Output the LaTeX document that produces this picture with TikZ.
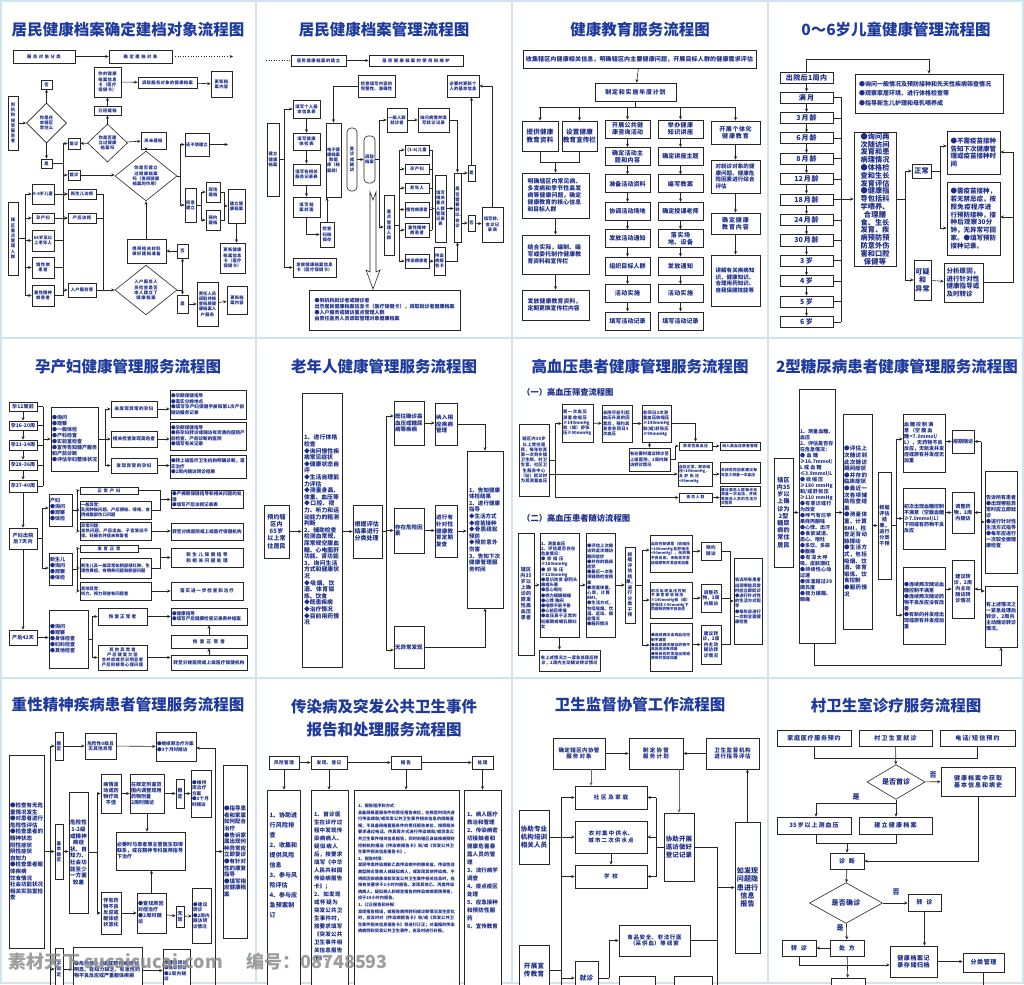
\documentclass[tikz,border=0pt]{standalone}
\usepackage{fontspec}
\setmainfont{Noto Sans CJK SC}
\XeTeXlinebreaklocale "zh"
\XeTeXlinebreakskip=0pt plus 1pt
\usetikzlibrary{arrows.meta,shapes.geometric}
\definecolor{tblue}{HTML}{1B2C8A}
\definecolor{ttlc}{HTML}{1E3A9C}
\definecolor{sepc}{HTML}{CFE4EE}
\newcommand\mybox[7][]{%
  \pgfmathsetmacro\bxw{#5-#3}\pgfmathsetmacro\bxh{#6-#4}%
  \pgfmathsetmacro\bxt{max(#5-#3-2,3)}%
  \node[bx,minimum width=\bxw pt,minimum height=\bxh pt,text width=\bxt pt,#1] (#2) at ({(#3+#5)/2},{(#4+#6)/2}) {#7};}
\newcommand\mydia[7][]{%
  \node[dia,minimum width=#5pt,minimum height=#6pt,#1] (#2) at (#3,#4) {#7};}
\tikzset{
  bx/.style={draw=black!85,line width=0.6pt,fill=white,font=\fontsize{4.3}{5.2}\selectfont\bfseries,text=tblue,align=center,inner sep=1pt},
  dia/.style={draw=black!85,line width=0.6pt,fill=white,diamond,font=\fontsize{4.3}{5.2}\selectfont\bfseries,text=tblue,align=center,inner sep=0pt,text width=22pt},
  ttl/.style={font=\fontsize{15.5}{17}\selectfont\bfseries,text=ttlc,inner sep=0pt},
  sub/.style={font=\fontsize{8.3}{9}\selectfont\bfseries,text=tblue,inner sep=0pt,anchor=west},
  lbl/.style={font=\fontsize{7}{8}\selectfont\bfseries,text=tblue,inner sep=0pt},
  ctext/.style={text=tblue,align=left,inner sep=0pt,anchor=north},
  wm/.style={font=\fontsize{18}{20}\selectfont\bfseries,text=black!45,opacity=0.85,inner sep=0pt,anchor=west},
  ar/.style={line width=0.6pt,draw=black!85,-{Stealth[length=3.5pt,width=3pt]}},
  ln/.style={line width=0.6pt,draw=black!85},
  s38/.style={font=\fontsize{3.8}{4.6}\selectfont\bfseries},
  s4/.style={font=\fontsize{4.3}{5.2}\selectfont\bfseries},
  s45/.style={font=\fontsize{4.6}{5.5}\selectfont\bfseries},
  s5/.style={font=\fontsize{5}{6}\selectfont\bfseries},
  s55/.style={font=\fontsize{5.5}{6.6}\selectfont\bfseries},
  s58/.style={font=\fontsize{5.8}{7}\selectfont\bfseries},
  s6/.style={font=\fontsize{6}{7.2}\selectfont\bfseries},
  s65/.style={font=\fontsize{6.5}{7.8}\selectfont\bfseries},
  s7/.style={font=\fontsize{7}{8.4}\selectfont\bfseries},
  lft/.style={align=left},
}
\begin{document}
\begin{tikzpicture}[x=1pt,y=-1pt]
\useasboundingbox (0,0) rectangle (1024,984);
\clip (0,0) rectangle (1024,984);
\fill[white] (0,0) rectangle (1024,984);
\draw[sepc,line width=1.2pt] (1,1) rectangle (1023,983);
\foreach \xx in {256,512,768} \draw[sepc,line width=1.2pt] (\xx,0) -- (\xx,984);
\foreach \yy in {338,678} \draw[sepc,line width=1.2pt] (0,\yy) -- (1024,\yy);

%================ Panel 1
\node[ttl] (t1) at (128,30) {居民健康档案确定建档对象流程图};
\mybox{a1}{13}{50}{75}{63}{服务对象分类}
\mybox{a2}{109}{50}{172}{63}{确定建档对象}
\coordinate (a2e) at (233,56.5);
\draw[ar] (a1) -- (a2);
\draw[ar,dotted] (a2) -- (a2e);
\mybox{a3}{94}{67}{121}{97}{你的健康档案信息卡（医疗保健卡）}
\mybox{a4}{138}{77}{197}{88}{调取服务对象的健康档案}
\mybox{a5}{211}{71}{232}{97}{更新档案内容}
\mybox{a6}{94}{106}{121}{115}{已经建档}
\mydia[text width=20pt]{d1}{107.5}{143}{40}{38}{你是否建立过健康档案吗}
\mybox{a7}{68}{138}{80}{149}{复诊}
\mybox{a8}{141}{132}{166}{149}{尚未建档}
\mybox{a9}{41}{80}{52}{89}{否}
\mydia[text width=18pt]{d0}{46.5}{123}{40}{40}{你是在本辖区常住么}
\mybox{a10}{8}{96}{18}{150}{到机构接受服务者}
\mybox{a11}{41}{159}{52}{168}{是}
\draw[ar] (a10) -- (d0);
\draw[ar] (d0) -- (a9);
\draw[ar] (d0) -- (a11);
\draw[ar] (d1) -- (a6);
\draw[ar] (a6) -- (a3);
\draw[ar] (a3) -- (a4);
\draw[ar] (a4) -- (a5);
\draw[ar] (d1) -- (a7);
\draw[ar] (d1) -- (a8);
\coordinate (tr1) at (63,143.5);
\coordinate (tr1b) at (63,295.5);
\draw[ln] (tr1) -- (tr1b);
\draw[ln] (a11.east) -- (a11.east -| tr1);
\mybox{a12}{68}{170}{80}{180}{首诊}
\mybox{a13}{68}{189}{96}{199}{新生儿访视}
\mybox{a14}{68}{213}{96}{223}{产后访视}
\mybox{a15}{68}{283}{96}{297}{入户服务等}
\foreach \n in {a7,a12,a13,a14,a15} \draw[ar] (\n.west -| tr1) -- (\n.west);
\mydia[text width=30pt]{d2}{146}{176}{62}{38}{你是否建立过健康档案吗（查阅健康档案的作用）}
\draw[ar] (a12.east) -- (a12.east -| d2.west);
\draw[ar] (a8.south -| d2.north) -- (d2.north);
\coordinate (tr2) at (180,144.5);
\coordinate (tr2b) at (180,205);
\draw[ln] (d2.east) -- (d2.east -| tr2);
\draw[ln] (tr2) -- (tr2b);
\mybox{a16}{185}{133}{209}{156}{还不想建立}
\mybox{a17}{185}{188}{196}{222}{同意建立}
\draw[ar] (tr2) -- (a16.west |- tr2);
\draw[ar] (tr2b) -- (a17.west |- tr2b);
\coordinate (a16e) at (228,144.5);
\draw[ar] (a16) -- (a16e);
\mybox{a18}{206}{182}{220}{202}{现场建档}
\mybox{a19}{206}{210}{220}{230}{预约建档}
\coordinate (tr3) at (201,192);
\coordinate (tr3b) at (201,220);
\draw[ln] (a17.east) -- (a17.east -| tr3);
\draw[ln] (tr3) -- (tr3b);
\draw[ar] (tr3) -- (a18.west |- tr3);
\draw[ar] (tr3b) -- (a19.west |- tr3b);
\mybox{a20}{228}{189}{245}{223}{建立健康档案}
\coordinate (tr4) at (224,192);
\coordinate (tr4b) at (224,220);
\draw[ln] (a18.east |- tr4) -- (tr4) -- (tr4b) -- (a19.east |- tr4b);
\draw[ar] (tr4 |- a20) -- (a20.west);
\mybox{a21}{220}{243}{245}{273}{更新健康档案信息卡（医疗保健卡）}
\draw[ar] (a20) -- (a20 |- a21.north);
\mybox{a22}{8}{202}{18}{275}{辖区重点管理人群}
\coordinate (tr5) at (25,194);
\coordinate (tr5b) at (25,295.5);
\draw[ln] (tr5) -- (tr5b);
\draw[ln] (a22) -- (a22 -| tr5);
\mybox{a23}{32}{184}{54}{204}{0-6岁儿童}
\mybox{a24}{32}{213}{54}{223}{孕产妇}
\mybox{a25}{32}{230}{54}{251}{65岁及以上老年人}
\mybox{a26}{32}{257}{54}{278}{慢性病患者}
\mybox{a27}{32}{285}{54}{306}{重性精神病患者}
\foreach \n in {a23,a24,a25,a26,a27} \draw[ar] (\n.west -| tr5) -- (\n.west);
\draw[ar] (a23) -- (a13);
\draw[ar] (a24) -- (a14);
\foreach \n in {a25,a26,a27} \draw[ln] (\n.east) -- (\n.east -| tr1);
\mydia[text width=30pt]{d3}{146}{290}{62}{35}{入户服务人员检查是否本人建立了健康档案}
\draw[ar] (a15) -- (d3);
\coordinate (tr6) at (103,290);
\draw[ln] (a13.east) -| (tr6);
\draw[ln] (a14.east) -| (tr6);
\coordinate (tr7) at (182.5,290);
\draw[ln] (d3.east) -- (tr7);
\mybox{a28}{177}{244}{188}{258}{否}
\mybox{a29}{177}{295}{188}{313}{是}
\draw[ar] (tr7) -- (a28.south);
\draw[ar] (tr7) -- (a29.north);
\mybox{a30}{127}{239}{166}{263}{携带相关材料做好建档准备}
\draw[ar] (a28) -- (a30);
\draw[ar] (a30.north -| d2.south) -- (d2.south);
\mybox{a31}{197}{282}{218}{326}{责任人员调取并核查纸质健康档案入户服务}
\mybox{a32}{227}{286}{247}{314}{更新档案内容}
\draw[ar] (a29) -- (a31.west |- a29);
\draw[ar] (a31) -- (a32);

%================ Panel 2
\node[ttl] (t2) at (384,30) {居民健康档案管理流程图};
\mybox{b1}{291}{55}{346}{66}{居民健康档案的建立}
\mybox{b2}{369}{55}{463}{66}{居民健康档案的使用和维护}
\coordinate (b0) at (266,60.5);
\draw[ln,dotted] (b0) -- (b1);
\draw[ar] (b1) -- (b2);
\mybox{b3}{267}{123}{279}{196}{建立健康档案}
\coordinate (tb1) at (284,109);
\coordinate (tb1b) at (284,267.5);
\draw[ln] (tb1) -- (tb1b);
\draw[ln] (b3) -- (b3 -| tb1);
\mybox{b4}{293}{100}{320}{118}{填写个人基本信息表}
\mybox{b5}{293}{133}{320}{150}{填写健康体检表}
\mybox{b6}{293}{164}{320}{185}{填写各相关服务记录表}
\mybox{b7}{293}{197}{320}{217}{填写档案封面}
\mybox{b10}{293}{258}{336}{277}{发放健康档案信息卡（医疗保健卡）}
\draw[ar] (tb1) -- (b4.west |- tb1);
\draw[ar] (tb1b) -- (b10.west |- tb1b);
\draw[ar] (b4) -- (b5);
\draw[ar] (b5) -- (b6);
\draw[ar] (b6) -- (b7);
\mybox{b8}{320}{222}{334}{247}{检查归档保存}
\mybox{b9}{326}{123}{341}{197}{电子健康档案数据库（档案袋）}
\draw[ar] (b7.south) |- (b8.west);
\draw[ar] (b8.north) -- (b8.north |- b9.south);
\mybox{b11}{358}{75}{395}{97}{检查填写内容的完整性、准确性}
\draw[ar] (b11.west) -| (b9.north);
\mybox[rounded corners=4pt]{b12}{347}{128}{357}{191}{复诊或随访}
\mybox[rounded corners=4pt]{b13}{364}{136}{375}{183}{调取档案}
\draw[ar] (b12) -- (b13);
\draw[ln,fill=white] (370,192) -- (373,200) -- (376,192) -- (376,272) -- (380,270) -- (373,289) -- (366,270) -- (370,272) -- cycle;
\coordinate (tb2) at (379,120);
\coordinate (tb2b) at (379,227);
\draw[ln] (tb2) -- (tb2b);
\draw[ln] (b13) -- (b13 -| tb2);
\mybox{b14}{387}{108}{407}{132}{一般人群就诊者}
\mybox{b15}{418}{108}{449}{132}{询问病情并填写就诊记录}
\mybox{b16}{384}{195}{394}{255}{重点管理人群}
\draw[ar] (tb2) -- (b14.west |- tb2);
\draw[ar] (tb2b) -- (b16.west |- tb2b);
\draw[ar] (b14) -- (b15);
\mybox{b17}{454}{173}{461}{242}{是否需要转诊、会诊}
\draw[ar] (b15.east) -| (b17.north);
\coordinate (tb3) at (399,150);
\coordinate (tb3b) at (399,261);
\draw[ln] (tb3) -- (tb3b);
\draw[ln] (b16) -- (b16 -| tb3);
\mybox{b18}{405}{145}{429}{155}{(1-6)儿童}
\mybox{b19}{405}{164}{429}{174}{孕产妇}
\mybox{b20}{405}{183}{429}{193}{老年人}
\mybox{b21}{405}{202}{429}{217}{慢性病患者}
\mybox{b22}{405}{223}{429}{237}{重性精神病患者}
\mybox{b23}{405}{254}{429}{268}{传染病患者}
\foreach \n in {b18,b19,b20,b21,b22,b23} \draw[ar] (\n.west -| tb3) -- (\n.west);
\coordinate (tb4) at (432,150);
\coordinate (tb4b) at (432,230);
\draw[ln] (tb4) -- (tb4b);
\foreach \n in {b18,b19,b20,b21,b22} \draw[ln] (\n.east) -- (\n.east -| tb4);
\mybox{b24}{435}{175}{446}{242}{填写相关重点人群管理记录表}
\draw[ar] (tb4 |- b24) -- (b24.west);
\mybox{b25}{434}{247}{445}{275}{传染病报告卡}
\draw[ar] (b23) -- (b25);
\draw[ar] (b24) -- (b24 -| b17.west);
\draw[ar] (b25.east) -| (b17.south);
\mybox{b26}{468}{165}{475}{181}{是}
\mybox{b27}{468}{215}{475}{231}{否}
\draw[ar] (b17.east |- b26) -- (b26);
\draw[ar] (b17.east |- b27) -- (b27);
\mybox{b28}{447}{75}{479}{97}{必要时更新个人的基本信息}
\draw[ar] (b26) -- (b26 |- b28.south);
\mybox{b29}{482}{207}{503}{242}{填写转、会诊记录表}
\draw[ar] (b27) -- (b29);
\coordinate (tb5) at (492.5,86);
\draw[ln] (b29.north) -- (b29.north |- tb5);
\draw[ar] (b29.north |- tb5) -- (b28.east |- tb5);
\mybox[s5,lft,text width=140pt]{b30}{309}{290}{460}{330}{●到机构就诊者或随诊者\\出示居民健康档案信息卡（医疗保健卡），调取就诊者健康档案\\●入户服务或随访重点管理人群\\由责任医务人员调取管理对象健康档案}

%================ Panel 3
\node[ttl] (t3) at (640,30) {健康教育服务流程图};
\mybox[s6]{c1}{523}{50}{756}{68}{收集辖区内健康相关信息，明确辖区内主要健康问题，开展目标人群的健康需求评估}
\mybox[s6]{c2}{595}{83}{676}{101}{制定和实施年度计划}
\draw[ar] (c1) -- (c2);
\coordinate (tc1) at (539,107);
\coordinate (tc1b) at (735.5,107);
\draw[ln] (tc1) -- (tc1b);
\draw[ln] (c2) -- (c2 |- tc1);
\mybox[s65]{c3}{522}{121}{558}{151}{提供健康\\教育资料}
\mybox[s65]{c4}{562}{121}{597}{151}{设置健康\\教育宣传栏}
\foreach \n in {c3,c4} \draw[ar] (\n.north |- tc1) -- (\n.north);
\coordinate (tc2) at (540,162);
\draw[ln] (c3.south) -- (c3.south |- tc2) -- (c4.south |- tc2) -- (c4.south);
\mybox[s58,lft,text width=56pt]{c5}{522}{173}{589}{218}{明确辖区内常见病、多发病和季节性高发病等健康问题，确定健康教育的核心信息和目标人群}
\draw[ar] (c5.north |- tc2) -- (c5.north);
\mybox[s58,lft,text width=56pt]{c6}{522}{235}{589}{274}{结合实际，编制、编写或委托制作健康教育资料和宣传栏}
\mybox[s58,lft,text width=56pt]{c7}{522}{290}{589}{320}{发放健康教育资料，定期更换宣传栏内容}
\draw[ar] (c5) -- (c6);
\draw[ar] (c6) -- (c7);
\foreach \t [count=\i] in {开展公共健康咨询活动,确定活动主题和内容,准备活动资料,协调活动场地,发放活动通知,组织目标人群,活动实施,填写活动记录}{
  \pgfmathsetmacro\yt{120+(\i-1)*27.4}
  \mybox[s6,text width=37pt]{p\i}{605}{\yt}{650}{\yt+18}{\t}}
\foreach \t [count=\i] in {举办健康知识讲座,确定讲座主题,编写教案,确定授课老师,落实场地、设备,发放通知,活动实施,填写活动记录}{
  \pgfmathsetmacro\yt{120+(\i-1)*27.4}
  \mybox[s6,text width=37pt]{q\i}{658}{\yt}{703}{\yt+18}{\t}}
\foreach \i [count=\j from 2] in {1,...,7} {\draw[ar] (p\i) -- (p\j); \draw[ar] (q\i) -- (q\j);}
\draw[ar] (p1.north |- tc1) -- (p1.north);
\draw[ar] (q1.north |- tc1) -- (q1.north);
\mybox[s6]{e1}{711}{121}{760}{144}{开展个体化\\健康教育}
\mybox[s55,lft,text width=40pt]{e2}{711}{160}{760}{193}{对就诊对象的健康问题、健康危险因素进行综合评估}
\mybox[s6]{e3}{711}{213}{760}{234}{确定健康\\教育内容}
\mybox[s55,lft,text width=40pt]{e4}{711}{255}{760}{306}{讲解有关疾病知识、健康知识、合理用药知识、自我保健技能等}
\draw[ar] (e1.north |- tc1) -- (e1.north);
\draw[ar] (e1) -- (e2);
\draw[ar] (e2) -- (e3);
\draw[ar] (e3) -- (e4);

%================ Panel 4
\node[ttl] (t4) at (896,30) {0～6岁儿童健康管理流程图};
\mybox[s7]{m0}{780}{72}{833}{83}{出院后1周内}
\foreach \t [count=\i] in {满月,3月龄,6月龄,8月龄,12月龄,18月龄,24月龄,30月龄,3岁,4岁,5岁,6岁}{
  \pgfmathsetmacro\yt{92+(\i-1)*20.4}
  \mybox[s7]{m\i}{780}{\yt}{833}{\yt+11}{\t}}
\draw[ar] (m0) -- (m1);
\foreach \i [count=\j from 2] in {1,...,11} \draw[ar] (m\i) -- (m\j);
\mybox[font=\fontsize{6}{9.5}\selectfont\bfseries,lft,text width=140pt]{f1}{855}{74}{1003}{113}{●询问一般情况及预防接种和先天性疾病筛查情况\\●观察家居环境、进行体格检查等\\●指导新生儿护理和母乳喂养成}
\draw[ar] (m0.north) -- ++(0,-12) -| (f1.north);
\coordinate (tf1) at (841,97.5);
\coordinate (tf1b) at (841,321.9);
\draw[ln] (tf1) -- (tf1b);
\foreach \i in {1,...,12} \draw[ln] (m\i.east) -- (m\i.east -| tf1);
\mybox[font=\fontsize{7.2}{7.8}\selectfont\bfseries,text width=30pt]{f2}{854}{132}{896}{266}{●询问两次随访间发育和患病理情况●体格检查和生长发育评估●健康指导包括科学喂养、合理膳食、生长发育、疾病预防预防意外伤害和口腔保健等}
\draw[ar] (f2.west -| tf1) -- (f2.west);
\coordinate (tf2) at (905,171);
\coordinate (tf2b) at (905,280);
\draw[ln] (f2.east) -- (f2.east -| tf2);
\draw[ln] (tf2) -- (tf2b);
\mybox[s7]{f3}{912}{164}{931}{178}{正常}
\mybox[s7]{f4}{914}{260}{931}{300}{可疑\\和\\异常}
\draw[ar] (tf2) -- (f3.west |- tf2);
\draw[ar] (tf2b) -- (f4.west |- tf2b);
\coordinate (tf3) at (940,146);
\coordinate (tf3b) at (940,228);
\draw[ln] (f3.east) -- (f3.east -| tf3);
\draw[ln] (tf3) -- (tf3b);
\mybox[s65,lft,text width=46pt]{f5}{947}{131}{1000}{174}{●不需疫苗接种告知下次健康管理或疫苗接种时间}
\mybox[s65,lft,text width=46pt]{f6}{947}{182}{1000}{255}{●需疫苗接种，若无禁忌症，按照免疫程序进行预防接种，接种后观察30分钟，无异常可回家。●填写预防接种记录。}
\draw[ar] (tf3) -- (f5.west |- tf3);
\draw[ar] (tf3b) -- (f6.west |- tf3b);
\mybox[s65,lft,text width=34pt]{f7}{944}{263}{983}{302}{分析原因，进行针对性健康指导或及时转诊}
\draw[ar] (f4) -- (f7);
\coordinate (tf4) at (1013,152);
\coordinate (tf4b) at (1013,217);
\draw[ln] (f7.east) -| (tf4);
\draw[ar] (tf4) -- (f5.east |- tf4);
\draw[ar] (tf4b) -- (f6.east |- tf4b);

%================ Panel 5
\node[ttl] (t5) at (128,367) {孕产妇健康管理服务流程图};
\mybox[s5]{g1}{9}{402}{37}{411}{孕12周前}
\mybox[s5]{g2}{9}{421}{37}{430}{孕16-20周}
\mybox[s5]{g3}{9}{440}{37}{450}{孕21-24周}
\mybox[s5]{g4}{9}{460}{37}{470}{孕28-36周}
\mybox[s5]{g5}{9}{480}{37}{492}{孕37-40周}
\draw[ar] (g1) -- (g2);
\draw[ar] (g2) -- (g3);
\draw[ar] (g3) -- (g4);
\draw[ar] (g4) -- (g5);
\coordinate (tg1) at (43,406.5);
\coordinate (tg1b) at (43,486);
\draw[ln] (tg1) -- (tg1b);
\foreach \i in {1,...,5} \draw[ln] (g\i.east) -- (g\i.east -| tg1);
\mybox[s5,lft]{g6}{51}{407}{98}{471}{●询问\\●观察\\●一般体检\\●产科检查\\●实验室检查\\●宣传告知健产服务和产前诊断\\●评估孕妇整体状况}
\draw[ar] (tg1 |- g6) -- (g6.west);
\coordinate (tg2) at (105,409);
\coordinate (tg2b) at (105,465.5);
\draw[ln] (g6.east) -- (g6.east -| tg2);
\draw[ln] (tg2) -- (tg2b);
\mybox[s45]{g7}{111}{401}{157}{417}{未发现异常的孕妇}
\mybox[s45]{g8}{111}{431}{157}{447}{相关检查发现高危者}
\mybox[s45]{g9}{111}{458}{157}{473}{发现异常的孕妇}
\draw[ar] (tg2) -- (g7.west |- tg2);
\draw[ar] (tg2 |- g8) -- (g8.west);
\draw[ar] (tg2b) -- (g9.west |- tg2b);
\mybox[s45,lft]{g10}{170}{390}{246}{419}{●孕期保健指导\\●落实分娩地点\\●填写孕产妇保健手册和第1次产前随访服务记录}
\mybox[s45,lft]{g11}{170}{422}{246}{450}{●孕期保健指导\\●将孕妇转诊或随访有资质的医院产前检查、产前诊断的医院\\●填写有关记录}
\mybox[s45,lft]{g12}{170}{455}{246}{478}{●转上级医疗卫生机构明确诊断，落实治疗\\●2周内随访转诊结果}
\draw[ar] (g7) -- (g7 -| g10.west);
\draw[ar] (g8) -- (g8 -| g11.west);
\draw[ar] (g9) -- (g9 -| g12.west);
\mybox[s5]{g13}{9}{528}{37}{549}{产妇出院后7天内}
\draw[ar] (g5) -- (g13);
\mybox[s5]{g14}{9}{630}{37}{645}{产后42天}
\draw[ar] (g13) -- (g14);
\coordinate (tg3) at (42,508);
\coordinate (tg3b) at (42,568);
\draw[ln] (g13.east) -- (g13.east -| tg3);
\draw[ln] (tg3) -- (tg3b);
\mybox[s5,lft]{g15}{49}{494}{72}{526}{产妇\\●询问\\●观察\\●体检}
\mybox[s5,lft]{g16}{49}{553}{72}{585}{新生儿\\●询问\\●观察\\●体检}
\draw[ar] (tg3) -- (g15.west |- tg3);
\draw[ar] (tg3b) -- (g16.west |- tg3b);
\coordinate (tg4) at (77,490.5);
\coordinate (tg4b) at (77,531);
\draw[ln] (g15.east) -- (g15.east -| tg4);
\draw[ln] (tg4) -- (tg4b);
\mybox[s4]{g17}{80}{487}{138}{494}{正常产妇}
\mybox[s4,lft]{g18}{80}{501}{151}{519}{一般异常：\\乳房肿胀问题、产后便秘、痔疮、会阴或腹部伤口问题}
\mybox[s4,lft]{g19}{80}{522}{151}{540}{异常问题：\\发热问题、产后出血、子宫复旧不佳、妊娠合并症未恢复者}
\draw[ar] (tg4) -- (g17.west |- tg4);
\draw[ar] (tg4 |- g18) -- (g18.west);
\draw[ar] (tg4b) -- (g19.west |- tg4b);
\mybox[s45,lft]{g20}{171}{491}{243}{508}{●产褥期保健指导和相关问题的处理\\●填写产后访视记录表}
\mybox[s45]{g21}{171}{523}{243}{540}{转至分娩医院或上级医疗保健机构}
\coordinate (tg5) at (160,499.5);
\draw[ln] (g17.east) -| (tg5);
\draw[ln] (g18.east) -| (tg5);
\draw[ar] (tg5) -- (g20.west |- tg5);
\draw[ar] (g19) -- (g19 -| g21.west);
\coordinate (tg6) at (77,548.5);
\coordinate (tg6b) at (77,591);
\draw[ln] (g16.east) -- (g16.east -| tg6);
\draw[ln] (tg6) -- (tg6b);
\mybox[s4]{g22}{80}{545}{138}{552}{发育正常}
\mybox[s4,lft]{g23}{80}{558}{151}{578}{新生儿及一般异常如脐部感红肿、生理性黄疸、有喂养问题和脐部问题}
\mybox[s4,lft]{g24}{80}{582}{151}{600}{其他异常：\\听力、视力筛查有问题者}
\draw[ar] (tg6) -- (g22.west |- tg6);
\draw[ar] (tg6 |- g23) -- (g23.west);
\draw[ar] (tg6b) -- (g24.west |- tg6b);
\mybox[s45]{g25}{171}{548}{243}{567}{新生儿保健指导\\和相关问题处理}
\mybox[s45]{g26}{171}{582}{243}{600}{落实进一步检查和治疗}
\coordinate (tg7) at (160,557.5);
\draw[ln] (g22.east) -| (tg7);
\draw[ln] (g23.east) -| (tg7);
\draw[ar] (tg7) -- (g25.west |- tg7);
\draw[ar] (g24) -- (g24 -| g26.west);
\mybox[s5,lft]{g27}{49}{610}{88}{668}{●询问\\●观察\\●身体检查\\●妇科检查\\●其他检查}
\draw[ar] (g14) -- (g14 -| g27.west);
\coordinate (tg8) at (92,616.5);
\coordinate (tg8b) at (92,657.5);
\draw[ln] (g27.east) -- (g27.east -| tg8);
\draw[ln] (tg8) -- (tg8b);
\mybox[s45]{g28}{98}{608}{147}{625}{恢复正常者}
\mybox[s4]{g29}{98}{645}{147}{670}{其他异常者\\产后健复欠佳\\合并症或状况明显者\\产后抑郁等心理问题}
\draw[ar] (tg8) -- (g28.west |- tg8);
\draw[ar] (tg8b) -- (g29.west |- tg8b);
\mybox[s45,lft]{g30}{171}{608}{247}{625}{●健康指导\\●填写产后健康检查记录表并结案}
\mybox[s45]{g31}{171}{635}{247}{648}{恢复正常者}
\mybox[s45]{g32}{171}{655}{247}{670}{转至分娩医院或上级医疗保健机构}
\draw[ar] (g28) -- (g28 -| g30.west);
\draw[ar] (g29) -- (g29 -| g32.west);
\draw[ar] (g32) -- (g31);
\draw[ar] (g31) -- (g30);

%================ Panel 6
\node[ttl] (t6) at (384,367) {老年人健康管理服务流程图};
\mybox[s6,text width=21pt]{h1}{264}{505}{289}{558}{预约辖区内65岁以上常住居民}
\mybox[font=\fontsize{5.8}{6.6}\selectfont\bfseries,lft,text width=36pt]{h2}{302}{393}{342}{667}{1、进行体格检查\\◆询问慢性疾病常见症状\\◆健康状态自评\\◆生活自理能力评估\\◆测量身高、体重、血压等\\◆口腔、视力、听力和运动能力的粗测判断\\2、辅助检查\\检测血常规、尿常规空腹血糖、心电图肝功能、肾功能\\3、询问生活方式和健康状况\\◆吸烟、饮酒、体育锻炼、饮食\\◆既患疾病\\◆治疗情况\\◆目前用药情况}
\draw[ar] (h1) -- (h1 -| h2.west);
\mybox[s6,lft,text width=26pt]{h3}{353}{505}{382}{558}{根据评估结果进行分类处理}
\draw[ar] (h2.east |- h3) -- (h3);
\coordinate (th1) at (386,416);
\coordinate (th1b) at (386,650);
\draw[ln] (th1) -- (th1b);
\draw[ln] (h3.east) -- (h3.east -| th1);
\mybox[s55,lft]{h4}{394}{401}{424}{445}{既往确诊高血压或糖尿病等疾病}
\mybox[s55,lft]{h5}{394}{508}{424}{553}{存在危险因素}
\mybox[s55,lft]{h6}{394}{626}{424}{668}{无异常发现}
\draw[ar] (th1) -- (h4.west |- th1);
\draw[ar] (th1 |- h5) -- (h5.west);
\draw[ar] (th1b) -- (h6.west |- th1b);
\mybox[s55,lft]{h7}{435}{403}{457}{445}{纳入相应疾病管理}
\mybox[s55,lft]{h8}{435}{505}{457}{557}{进行有针对性健康教育定期复查}
\draw[ar] (h4) -- (h4 -| h7.west);
\draw[ar] (h5) -- (h5 -| h8.west);
\mybox[s55,lft,text width=32pt]{h9}{467}{451}{503}{608}{1、告知健康体检结果\\2、进行健康指导\\◆生活方式\\◆疫苗接种\\◆骨质疏松预防\\◆预防意外伤害\\3、告知下次健康管理服务时间}
\draw[ar] (h7.east) -| (h9.north);
\draw[ar] (h8) -- (h8 -| h9.west);
\draw[ar] (h6.east) -| (h9.south);

%================ Panel 7
\node[ttl] (t7) at (640,367) {高血压患者健康管理服务流程图};
\node[sub] (u1) at (522,392) {（一）高血压筛查流程图};
\mybox[s4]{i1}{519}{424}{549}{496}{辖区内35岁以上常住居民，每年在其第一次到乡镇卫生院、村卫生室、社区卫生服务中心（站）就诊时为其测量血压}
\mybox[s4,lft]{i2}{562}{404}{593}{442}{第一次血压测量收缩压≥140mmHg和（或）舒张压≥90mmHg}
\mybox[s4,lft]{i3}{602}{405}{632}{442}{去除可能引起血压升高的因素后，预约其复查非同日3次血压}
\mybox[s4,lft]{i4}{642}{405}{671}{442}{非同日3次测量血压收缩压≥140mmHg和(或)舒张压≥90mmHg}
\draw[ar] (i2) -- (i3);
\draw[ar] (i3) -- (i4);
\mybox[s38]{i5}{679}{442}{712}{450}{原发性高血压}
\mybox[s38]{i6}{720}{442}{760}{450}{纳入高血压患者管理}
\draw[ar] (i4.east) -| (i5.north);
\draw[ar] (i5) -- (i6);
\mybox[s4,lft]{i7}{629}{448}{670}{471}{有必要时建议转诊至上级医院，2周内随访转诊情况}
\draw[ar] (i7.north |- i4.south) -- (i7.north);
\coordinate (ti1) at (675,459.5);
\draw[ln] (i7.east) -- (ti1);
\draw[ar] (ti1) |- (i5.west);
\mybox[s38,lft]{i8}{678}{462}{712}{486}{血压正常，即收缩压<140mmHg，且舒张压<90mmHg}
\mybox[s38,lft]{i9}{720}{462}{760}{483}{去掉危险因素建议每年至少测量一次血压}
\mybox[s38]{i10}{679}{493}{712}{502}{高危人群}
\mybox[s38,lft]{i11}{720}{487}{760}{506}{建议高危人群每半年测量一次血压，并接受医务人员的生活方式指导}
\coordinate (ti2) at (555,423.5);
\coordinate (ti2b) at (555,497.5);
\draw[ln] (i1.east) -- (i1.east -| ti2);
\draw[ln] (ti2) -- (ti2b);
\draw[ar] (ti2) -- (i2.west |- ti2);
\draw[ar] (ti2b) -- (i10.west |- ti2b);
\draw[ar] (i1.east |- i8) -- (i8.west);
\draw[ar] (i8) -- (i8 -| i9.west);
\draw[ar] (i10) -- (i10 -| i11.west);
\node[sub] (u2) at (522,518) {（二）高血压患者随访流程图};
\mybox[s5]{i12}{518}{533}{534}{655}{辖区内35岁以上确诊的原发性高血压患者}
\mybox[s4,lft]{i13}{540}{533}{579}{637}{1、测量血压\\2、评估是否存在危急情况：\\●收缩压≥180mmHg\\●舒张压≥110mmHg\\●意识改变 剧烈头痛或头晕\\●恶心呕吐\\●视力模糊眼痛\\●心悸 胸闷\\●喘憋不能平卧\\●心前区疼痛\\●血压高于正常的妊娠期或哺乳期妇女}
\draw[ar] (i12.east |- i13) -- (i13.west);
\mybox[s4]{i14}{539}{650}{600}{671}{有上述情况之一紧急处理后转诊，2周内主动随访转诊情况}
\draw[ar] (i13.south) -- (i13.south |- i14.north);
\mybox[s4,lft]{i15}{586}{533}{615}{637}{●评估上次随访到此次随访期间症状\\●并存的临床症状\\●最近一次各项辅助检查结果\\●测量体重、心率，计算BMI。\\●生活方式，包括吸烟、饮酒、运动、摄盐情况\\●服药情况}
\draw[ar] (i13) -- (i15);
\mybox[s45]{i16}{625}{547}{635}{623}{根据评估结果，进行分类干预}
\draw[ar] (i15) -- (i15 -| i16.west);
\coordinate (ti3) at (642,550);
\coordinate (ti3b) at (642,645);
\draw[ln] (i16.east) -- (i16.east -| ti3);
\draw[ln] (ti3) -- (ti3b);
\mybox[s38,lft]{i17}{650}{535}{692}{572}{血压控制满意（收缩压<140mmHg且舒张压<90mmHg），无药物不良反应、无新发并发症或原有并发症无加重}
\mybox[s38,lft]{i18}{650}{582}{692}{618}{初次出现血压控制不满意即收缩压≥140mmHg和（或）舒张压≥90mmHg下同或有药物不良反应}
\mybox[s38,lft]{i19}{650}{623}{692}{671}{●连续两次出现血压控制不满意\\●连续两次随访药物不良反应没有改善\\●有新的并发症出现或原有并发症加重}
\draw[ar] (ti3) -- (i17.west |- ti3);
\draw[ar] (ti3 |- i18) -- (i18.west);
\draw[ar] (ti3b) -- (i19.west |- ti3b);
\mybox[s45]{i20}{701}{542}{721}{560}{预约随访}
\mybox[s45]{i21}{701}{584}{721}{612}{调整药物，2周内随访}
\mybox[s45]{i22}{701}{625}{721}{664}{建议转诊，2周内主动随访转诊情况}
\draw[ar] (i17.east |- i20) -- (i20);
\draw[ar] (i18.east |- i21) -- (i21);
\draw[ar] (i19.east |- i22) -- (i22);
\coordinate (ti4) at (730,551);
\coordinate (ti4b) at (730,644.5);
\foreach \n in {i20,i21,i22} \draw[ln] (\n.east) -- (\n.east -| ti4);
\draw[ln] (ti4) -- (ti4b);
\mybox[s4,lft]{i23}{734}{558}{762}{644}{告诉所有患者出现哪些异常时应立即就诊\\●进行针对性的生活方式指导\\●每年应进行一次较全面健康检查}
\draw[ar] (ti4 |- i23) -- (i23.west);

%================ Panel 8
\node[ttl] (t8) at (897,367) {2型糖尿病患者健康管理服务流程图};
\mybox[s6,text width=15pt]{j1}{774}{458}{793}{567}{辖区内35岁以上确诊为2型糖尿病的常住居民}
\mybox[s5,lft]{j2}{799}{389}{835}{643}{1、测量血糖、血压\\2、评估是否存在危急情况：\\●血糖≥16.7mmol/L或血糖≤3.9mmol/L\\●收缩压≥180 mmHg和/或舒张压≥110 mmHg\\●有意识或行为改变\\●呼气有烂苹果样丙酮味\\●心悸、出汗\\●食欲减退、恶心、呕吐\\●多饮、多尿\\●腹痛\\●有深大呼吸、皮肤潮红\\●持续性心动过速\\●体温超过39摄氏度\\●视力模糊、眼痛}
\draw[ar] (j1) -- (j1 -| j2.west);
\mybox[s55,lft]{j3}{843}{414}{872}{629}{●评估上次随访到此次随访期间症状\\●并存的临床症状\\●最近一次各项辅助检查结果\\●测量体重，计算BMI，检查足背动脉搏动\\●生活方式，包括吸烟、饮酒、体育锻炼、饮食控制\\●服药情况}
\draw[ar] (j2.east |- j1) -- (j3.west |- j1);
\mybox[s5]{j4}{878}{472}{891}{579}{根据评估结果，进行分类干预}
\draw[ar] (j3.east |- j4) -- (j4.west);
\coordinate (tj1) at (896,439);
\coordinate (tj1b) at (896,615);
\draw[ln] (j4.east) -- (j4.east -| tj1);
\draw[ln] (tj1) -- (tj1b);
\mybox[s5,lft]{j5}{903}{414}{945}{472}{血糖控制满意（空腹血糖<7.0mmol/L），无药物不良反应，无新发并发症或原有并发症无加重}
\mybox[s5,lft]{j6}{903}{488}{945}{549}{初次出现血糖控制不满意（空腹血糖≥7.0mmol/L）下同或有药物不良反应}
\mybox[s5,lft]{j7}{903}{567}{945}{644}{●连续两次随访血糖控制不满意\\●连续两次随访药物不良反应没有改善\\●有新的并发症出现或原有并发症加重}
\draw[ar] (tj1) -- (j5.west |- tj1);
\draw[ar] (tj1 |- j6) -- (j6.west);
\draw[ar] (tj1b) -- (j7.west |- tj1b);
\mybox[s5]{j8}{952}{430}{974}{453}{按期随访}
\mybox[s5]{j9}{952}{492}{974}{533}{调整药物，2周内随访}
\mybox[s5]{j10}{952}{560}{974}{618}{建议转诊，2周内主动随访转诊情况}
\draw[ar] (j5.east |- j8) -- (j8);
\draw[ar] (j6.east |- j9) -- (j9);
\draw[ar] (j7.east |- j10) -- (j10);
\coordinate (tj2) at (981,441.5);
\coordinate (tj2b) at (981,591);
\draw[ln] (tj2) -- (tj2b);
\draw[ar] (tj2) -- (j8.east |- tj2);
\draw[ar] (tj2 |- j9) -- (j9.east);
\draw[ar] (tj2 |- j10) -- (j10.east);
\mybox[s5,lft]{j11}{985}{471}{1017}{573}{告诉所有患者\\●出现哪些异常时应立即就诊\\●进行针对性生活方式指导\\●每年应进行一次较全面健康检查}
\mybox[s5,lft]{j12}{985}{586}{1017}{647}{有上述情况之一紧急处理后转诊，2周内主动随访转诊情况。}
\draw[ar] (tj2 |- j11) -- (j11.west);
\draw[ar] (tj2b) -- (j12.west |- tj2b);
\coordinate (tj3) at (814,665);
\draw[ln] (j2.south -| tj3) -- (tj3);
\draw[ar] (tj3) -| (j12.south);

%================ Panel 9
\node[ttl] (t9) at (128,705) {重性精神疾病患者管理服务流程图};
\mybox[s55,lft]{k1}{9}{755}{44}{948}{●检查有无危重情况发生\\●对患者进行危险性评估\\●检查患者的精神状态\\阳性症状\\阴性症状\\自知力\\●检查患者躯体疾病\\饮食情况\\社会功能状况\\相关实验室检查}
\coordinate (tk1) at (50,746);
\coordinate (tk1b) at (50,990);
\draw[ln] (tk1) -- (tk1b);
\draw[ln] (k1.east) -- (k1.east -| tk1);
\mybox[s45]{k2}{55}{732}{63}{760}{稳定}
\mybox[s45]{k3}{55}{824}{63}{879}{基本稳定}
\mybox[s45]{k4}{55}{948}{63}{990}{不稳定}
\draw[ar] (tk1) -- (k2.west |- tk1);
\draw[ar] (tk1 |- k3) -- (k3.west);
\draw[ar] (tk1 |- k4) -- (k4.west);
\mybox[s45]{k5}{85}{733}{116}{759}{危险性0级且无其他异常}
\draw[ar] (k2) -- (k5);
\mybox[s45,lft]{k6}{156}{732}{196}{761}{●继续原治疗方案\\●3个月时随访}
\draw[ar] (k5) -- (k6);
\mybox[s55]{k7}{69}{792}{88}{913}{危险性1-2级或精神病症状、自知力、社会功能至少一方面较差}
\draw[ar] (k3) -- (k3 -| k7.west);
\coordinate (tk2) at (97,793.5);
\coordinate (tk2b) at (97,913);
\draw[ln] (k7.east) -- (k7.east -| tk2);
\draw[ln] (tk2) -- (tk2b);
\mybox[s5]{k8}{101}{774}{121}{813}{病情波动或药物疗效不佳}
\mybox[s5]{k9}{101}{892}{121}{934}{伴有药物不良反应或躯体症状恶化}
\draw[ar] (tk2) -- (k8.west |- tk2);
\draw[ar] (tk2b) -- (k9.west |- tk2b);
\mybox[s5,lft]{k10}{130}{774}{164}{813}{在规定剂量范围内调整现用药物剂量\\2周时随访}
\draw[ar] (k8) -- (k10);
\mybox[s5]{k11}{176}{779}{184}{808}{稳定}
\draw[ar] (k10) -- (k11);
\mybox[s45,lft]{k12}{191}{770}{211}{817}{●维持现治疗方案\\●3个月时随访}
\draw[ar] (k11) -- (k12);
\mybox[s5,lft]{k13}{116}{832}{185}{870}{必要时与患者原主管医生取得联系，或在精神专科医师指导下治疗}
\draw[ar] (k10.south) -- (k10.south |- k13.north);
\mybox[s5,lft]{k14}{137}{893}{166}{933}{●查找原因对症治疗\\●2周时随访}
\draw[ar] (k9) -- (k9 -| k14.west);
\draw[ar] (k14.north) -- (k14.north |- k13.south);
\mybox[s5]{k15}{176}{906}{184}{927}{无效}
\draw[ar] (k14) -- (k15);
\mybox[s45,lft]{k16}{192}{888}{211}{943}{●建议转诊\\●2周内随访转诊情况}
\draw[ar] (k15) -- (k16);
\mybox[s55,lft]{k17}{223}{765}{247}{938}{●指导患者和家属如何配合治疗\\●告诉家属出现何种异常应立即复诊\\●有针对性的康复指导\\●填写相应健康档案}
\coordinate (tk3) at (215,748);
\coordinate (tk3b) at (215,990);
\draw[ln] (tk3) -- (tk3b);
\draw[ar] (tk3) -- (k6.east |- tk3);
\draw[ar] (tk3 |- k17) -- (k17.west);
\mybox[s5,lft]{k18}{73}{947}{142}{992}{●危险性3-5级或精神病症状明显、自知力缺乏、有急性药物不良反应或严重躯体疾病}
\draw[ar] (k4.east |- k18) -- (k18.west);
\mybox[s45,lft]{k19}{163}{949}{190}{992}{●建议转诊\\●急诊转诊\\●2周内随访}
\draw[ar] (k18.east |- k19) -- (k19.west);

%================ Panel 10
\node[ttl] (t10) at (384,707) {传染病及突发公共卫生事件};
\node[ttl] (t10b) at (384,730) {报告和处理服务流程图};
\mybox[s45]{l1}{269}{756}{299}{769}{风险管理}
\mybox[s45]{l2}{311}{756}{347}{769}{发现、登记}
\mybox[s45]{l3}{391}{756}{421}{769}{报告}
\mybox[s45]{l4}{472}{756}{493}{769}{处理}
\draw[ar] (l1) -- (l2);
\draw[ar] (l2) -- (l3);
\draw[ar] (l3) -- (l4);
\mybox{l5}{267}{790}{300}{995}{}
\mybox{l6}{311}{790}{348}{995}{}
\mybox{l7}{354}{790}{459}{995}{}
\mybox{l8}{464}{790}{501}{995}{}
\draw[ar] (l1) -- (l1 |- l5.north);
\draw[ar] (l2) -- (l2 |- l6.north);
\draw[ar] (l3) -- (l3 |- l7.north);
\draw[ar] (l4) -- (l4 |- l8.north);
\node[ctext,font=\fontsize{6}{10}\selectfont\bfseries,text width=28pt] (l5t) at ([yshift=-22pt]l5.north) {1、协助进行风险排查\\2、收集和提供风险信息\\3、参与风险评估\\4、参与应急预案制订};
\node[ctext,font=\fontsize{5.5}{8}\selectfont\bfseries,text width=31pt] (l6t) at ([yshift=-22pt]l6.north) {1、首诊医生在诊疗过程中发现传染病病人、疑似病人后，按要求填写《中华人民共和国传染病报告卡》；\\2、如发现或怀疑为突发公共卫生事件时，按要求填写《突发公共卫生事件相关信息报告卡》。};
\node[ctext,font=\fontsize{4.2}{6.6}\selectfont\bfseries,text width=97pt] (l7t) at ([yshift=-14pt]l7.north) {1、报告程序和方式：\\具备网络直报条件的责任报告单位，在规定时间内进行传染病和/或突发公共卫生事件相关信息的网络直报；不具备网络直报条件的责任报告单位，按照相关要求通过电话、传真等方式进行传染病和/或突发公共卫生事件相关信息报告，同时向辖区县级疾病预防控制机构报送《传染病报告卡》和/或《突发公共卫生事件相关信息报告卡》。\\2、报告时限：\\发现甲类传染病和乙类传染病中的肺炭疽、传染性非典型肺炎等病人或疑似病人，或发现其他传染病、不明原因疾病暴发和突发公共卫生事件相关信息时，应按有关要求于2小时内报告。发现其他乙、丙类传染病病人、疑似病人和规定报告的传染病病原携带者，应于24小时内报告。\\3、订正报告和补报：\\发现报告错误，或报告病例转归或诊断情况发生变化时，应及时对《传染病报告卡》和/或《突发公共卫生事件相关信息报告卡》等进行订正；对漏报的传染病病例和突发公共卫生事件，应及时进行补报。};
\node[ctext,font=\fontsize{5.5}{8}\selectfont\bfseries,text width=31pt] (l8t) at ([yshift=-22pt]l8.north) {1、病人医疗救治和管理\\2、传染病密切接触者和健康危害暴露人员的管理\\3、流行病学调查\\4、疫点疫区处理\\5、应急接种和预防性服药\\6、宣传教育};

%================ Panel 11
\node[ttl] (t11) at (640,705) {卫生监督协管工作流程图};
\mybox[s55]{n1}{553}{738}{605}{769}{确定辖区内协管\\服务对象}
\mybox[s55]{n2}{629}{738}{683}{769}{制定协管\\服务计划}
\mybox[s55]{n3}{706}{738}{759}{769}{卫生监督机构\\进行指导评估}
\draw[ar] (n1) -- (n2);
\draw[ar] (n3) -- (n2);
\mybox[s55]{n4}{575}{786}{647}{809}{社区及家庭}
\mybox[s55]{n5}{575}{821}{647}{853}{农村集中供水、\\城市二次供水点}
\mybox[s55]{n6}{575}{865}{647}{888}{学校}
\mybox[s65,text width=27pt]{n7}{519}{810}{549}{864}{协助专业机构培训相关人员}
\mybox[s65,text width=27pt]{n8}{664}{813}{694}{881}{协助开展巡访做好登记记录}
\mybox[s7,text width=22pt]{n9}{735}{822}{760}{953}{如发现问题隐患进行信息报告}
\mybox[s55]{n10}{619}{925}{690}{956}{食品安全、非法行医\\（采供血）等线索}
\mybox[s65]{n11}{519}{945}{549}{995}{开展宣\\传教育}
\mybox[s65]{n12}{575}{961}{598}{995}{就诊}
\mybox{n13}{619}{976}{655}{995}{}
\mybox{n14}{674}{976}{712}{995}{}
\draw[ar,black!60] ([xshift=12pt]n1.south) -- ([xshift=12pt]n1.south |- n4.north);
\draw[ar,black!60] (n8.north |- n2.south) -- (n8.north);
\coordinate (tn1) at (561,797.5);
\coordinate (tn1b) at (561,995);
\draw[ln] (tn1) -- (tn1b);
\draw[ar] (tn1) -- (n4.west |- tn1);
\draw[ar] (n7) -- (n5);
\draw[ar] (tn1 |- n6) -- (n6.west);
\draw[ln] (n11.east) -- (n11.east -| tn1);
\draw[ar] (tn1 |- n12) -- (n12.west);
\draw[ar] (n5.south) -- (n6.north);
\coordinate (tn2) at (656,797.5);
\coordinate (tn2b) at (656,876.5);
\draw[ln] (tn2) -- (tn2b);
\draw[ln] (n8.west) -- (n8.west -| tn2);
\draw[ar] (tn2) -- (n4.east |- tn2);
\draw[ar] (tn2 |- n5) -- (n5.east);
\draw[ar] (tn2b) -- (n6.east |- tn2b);
\coordinate (tn3) at (717,847);
\coordinate (tn3b) at (717,995);
\draw[ln] (n8.east |- tn3) -- (tn3) -- (tn3b);
\draw[ar] (tn3 |- n9) -- (n9.west);
\draw[ln] (n10.east) -- (n10.east -| tn3);
\draw[ar] (n9.north) -- (n9.north |- n3.south);
\coordinate (tn4) at (609,978);
\draw[ln] (n12.east |- tn4) -- (tn4);
\draw[ar] (tn4) |- (n10.west);

%================ Panel 12
\node[ttl] (t12) at (896,705) {村卫生室诊疗服务流程图};
\mybox[s6]{o1}{777}{730}{851}{746}{家庭医疗服务预约}
\mybox[s6]{o2}{859}{730}{932}{746}{村卫生室就诊}
\mybox[s6]{o3}{940}{730}{1015}{746}{电话/短信预约}
\coordinate (to1) at (814,758);
\draw[ln] (o1.south) -- (o1.south |- to1) -- (o3.south |- to1) -- (o3.south);
\mydia[s7,text width=28pt]{o4}{896}{782}{58}{29}{是否首诊}
\draw[ar] (o2) -- (o4);
\mybox[s6]{o5}{941}{767}{1015}{796}{健康档案中获取\\基本信息和病史}
\draw[ar] (o4) -- (o5);
\node[lbl] (o4n) at (933,775) {否};
\coordinate (to2) at (896,803);
\coordinate (to2b) at (816,803);
\draw[ln] (o4.south) -- (to2) -- (to2b);
\node[lbl] (o4y) at (856,797) {是};
\mybox[s6]{o6}{777}{817}{851}{834}{35岁以上测血压}
\mybox[s6]{o7}{859}{817}{932}{834}{建立健康档案}
\draw[ar] (to2b) -- (to2b |- o6.north);
\draw[ar] (to2) -- (to2 |- o7.north);
\coordinate (to3) at (816,843);
\coordinate (to3b) at (896,843);
\draw[ln] (to2b |- o6.south) -- (to3) -- (to3b) -- (to3b |- o7.south);
\mybox[s6]{o8}{830}{853}{864}{869}{诊\hspace{0.6em}断}
\draw[ar] (o8.north |- to3) -- (o8.north);
\draw[ar] (o5.south) |- (o8.east);
\mydia[s7,text width=34pt]{o9}{846}{903}{73}{29}{是否确诊}
\draw[ar] (o8) -- (o9);
\mybox[s6]{o10}{908}{894}{941}{911}{转\hspace{0.6em}诊}
\draw[ar] (o9) -- (o9 -| o10.west);
\node[lbl] (o9n) at (896,892) {否};
\mybox[s6]{o11}{830}{940}{864}{956}{处\hspace{0.6em}方}
\draw[ar] (o9) -- (o11);
\node[lbl] (o9y) at (840,928) {是};
\mybox[s6]{o12}{782}{940}{816}{956}{转\hspace{0.6em}诊}
\draw[ar] (o11) -- (o12);
\mybox[s6]{o13}{890}{946}{937}{977}{健康档案记\\录存储归档}
\draw[ar] (o10) -- (o10 |- o13.north);
\coordinate (to4) at (799,965);
\draw[ln] (o12.south) -- (o12.south |- to4);
\draw[ar] (o12.south |- to4) -- (o13.west |- to4);
\mybox[s6]{o14}{963}{953}{1004}{972}{分类管理}
\draw[ar] (o13) -- (o13 -| o14.west);
\mybox{o15}{831}{978}{865}{1000}{}
\draw[ar] (o11) -- (o15);
\coordinate (to5) at (983.5,995);
\draw[ln] (o14.south) -- (to5);

%================ watermark
\node[wm] (w1) at (8,962) {素材天下 sucaisucai.com};
\node[wm] (w2) at (246,962) {编号：08748593};
\end{tikzpicture}
\end{document}
